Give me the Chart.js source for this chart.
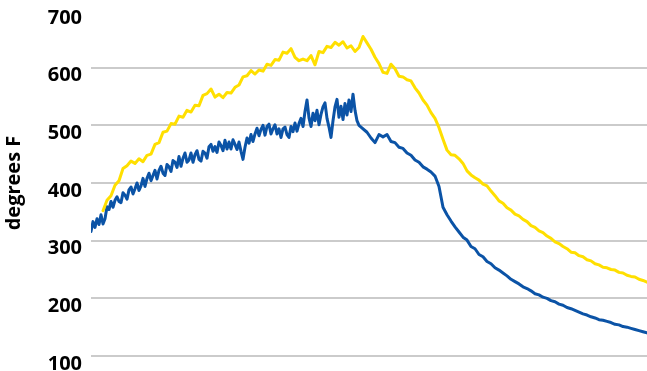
<!DOCTYPE html>
<html>
<head>
<meta charset="utf-8">
<script src="https://cdn.jsdelivr.net/npm/chart.js@4/dist/chart.umd.min.js"></script>
<style>
  html, body { margin: 0; padding: 0; background: #ffffff; }
  #wrap { width: 647px; height: 371px; }
</style>
</head>
<body>
<div id="wrap"><canvas id="c" width="647" height="371"></canvas></div>
<script>
// Y axis tick labels
const yTicks = [100, 200, 300, 400, 500, 600, 700];
const yTitle = "degrees F";

// Blue series (lower line), degrees F.
// First part sampled densely (heating phase, noisy), then every 2 time units.
const blueHeating = [
  316,333,323,338,328,345,329,338,359,354,368,358,370,376,368,366,383,379,372,388,
  393,381,390,400,387,395,408,394,408,417,404,413,422,407,422,429,417,413,432,428,
  420,439,436,427,446,429,443,452,436,440,452,436,449,456,441,438,455,452,443,463,
  467,455,463,453,471,465,456,474,459,471,459,475,467,458,471,455,441,462,478,469,
  484,472,485,495,482,493,500,483,498,502,485,494,501,485,494,479,494,497,484,479,
  498,489,504,490,503,512,498,524,544,513,498,521,508,526,501,519,532,539,512,497,
  479,508,532,545,514,533,510,538,518,544,524,554,526,508,500,497
];
const blueCooling = [
  488,478,470,484,480,484,472,470,462,460,452,448,440,436,428,424,419,412,394,358,
  345,334,324,315,306,301,290,286,276,272,264,260,253,249,244,239,233,229,225,220,
  217,213,208,206,202,200,196,194,190,188,184,182,179,176,173,171,168,166,163,162,
  160,158,155,154,151,150,148,146,144,142,140
];

// Yellow series (upper line), degrees F, every 2 time units
const yellowSeries = [
  352,370,378,396,404,425,430,438,434,442,437,448,450,467,470,488,490,
  503,502,516,514,526,523,535,534,552,555,563,549,554,548,557,556,566,570,584,586,
  595,589,596,594,606,604,614,613,627,625,633,618,612,615,612,621,605,628,626,637,
  635,644,639,645,634,638,628,635,654,643,632,618,607,592,590,606,598,585,584,579,
  577,565,556,544,535,522,512,496,476,457,449,448,442,434,421,414,409,405,398,395,
  386,378,369,365,357,353,346,343,337,333,326,323,317,314,308,304,298,295,290,286,
  280,279,274,272,267,265,260,258,254,253,250,249,245,244,240,238,237,233,231,228
];

// Sample times (arbitrary units, unlabeled in the reference)
const range = (start, count, step) => Array.from({ length: count }, (_, i) => start + i * step);
const blueTimes = range(0, blueHeating.length, 1).concat(range(138, blueCooling.length, 2));
const yellowTimes = range(6, yellowSeries.length, 2);
const blueSeries = blueHeating.concat(blueCooling);

const toPoints = (times, vals) => vals.map((v, i) => ({ x: times[i], y: v }));

new Chart(document.getElementById('c'), {
  type: 'line',
  data: {
    datasets: [
      {
        label: 'upper',
        data: toPoints(yellowTimes, yellowSeries),
        borderColor: '#ffdf00',
        borderWidth: 3,
        borderJoinStyle: 'round',
        borderCapStyle: 'round',
        pointRadius: 0,
        tension: 0,
        fill: false
      },
      {
        label: 'lower',
        data: toPoints(blueTimes, blueSeries),
        borderColor: '#0b53a6',
        borderWidth: 3,
        borderJoinStyle: 'round',
        borderCapStyle: 'round',
        pointRadius: 0,
        tension: 0,
        fill: false
      }
    ]
  },
  options: {
    responsive: false,
    animation: false,
    devicePixelRatio: 1,
    parsing: false,
    layout: { padding: { top: 10, right: 0, bottom: 15, left: 0 } },
    plugins: {
      legend: { display: false },
      tooltip: { enabled: false }
    },
    scales: {
      x: {
        type: 'linear',
        min: 0,
        max: 278,
        display: false
      },
      y: {
        min: 100,
        max: 700,
        afterFit: (scale) => {
          scale.width = 91;
          scale.paddingTop = 0;
          scale.paddingBottom = 0;
        },
        afterBuildTicks: (scale) => {
          scale.ticks = yTicks.map(v => ({ value: v }));
        },
        border: { display: false },
        grid: {
          drawTicks: false,
          lineWidth: 2,
          color: (ctx) => (ctx.tick && ctx.tick.value === 700) ? 'rgba(0,0,0,0)' : '#cbcbcb'
        },
        ticks: {
          padding: 9,
          labelOffset: 8,
          color: '#000000',
          font: { family: 'Open Sans', weight: 'bold', size: 20 }
        },
        title: {
          display: true,
          text: yTitle,
          color: '#000000',
          font: { family: 'Open Sans', weight: 'bold', size: 20 },
          padding: { top: 2, bottom: 0 }
        }
      }
    }
  }
});
</script>
</body>
</html>
